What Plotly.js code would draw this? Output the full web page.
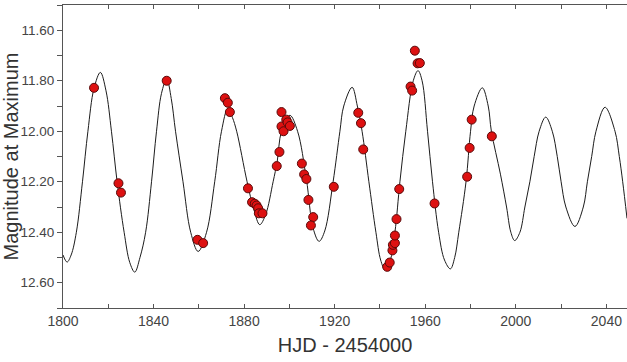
<!DOCTYPE html>
<html>
<head>
<meta charset="utf-8">
<script src="https://cdn.plot.ly/plotly-3.0.1.min.js"></script>
<style>
  html, body { margin: 0; padding: 0; background: #fff; }
  #chart { width: 627px; height: 362px; }
</style>
</head>
<body>
<div id="chart"></div>
<script>
// Model curve (HJD - 2454000, magnitude)
const curveX = [1800.0, 1801.8, 1803.6, 1805.9, 1808.6, 1811.0, 1813.7, 1816.5, 1819.0, 1821.4, 1823.9, 1827.0, 1829.5, 1831.7,
  1834.0, 1836.5, 1839.1, 1841.3, 1843.5, 1845.8, 1847.8, 1849.7, 1853.0, 1856.4, 1859.7, 1863.4, 1867.0, 1870.0,
  1872.8, 1874.8, 1876.7, 1881.3, 1884.3, 1886.9, 1889.5, 1892.8, 1894.6, 1896.5, 1900.2, 1903.6, 1907.5, 1910.5,
  1913.1, 1915.6, 1919.3, 1922.3, 1924.0, 1927.7, 1930.0, 1932.1, 1935.1, 1938.2, 1940.3, 1942.2, 1944.4, 1946.6,
  1948.8, 1951.4, 1954.7, 1956.8, 1958.6, 1961.0, 1963.2, 1965.9, 1968.5, 1971.1, 1973.0, 1974.8, 1978.0, 1980.0,
  1981.6, 1985.2, 1987.8, 1989.2, 1993.2, 1995.9, 1997.8, 1999.5, 2001.8, 2004.0, 2006.2, 2008.1, 2010.3, 2013.2,
  2016.1, 2018.3, 2020.0, 2022.1, 2026.1, 2029.8, 2031.6, 2033.5, 2035.4, 2039.4, 2043.8, 2045.7, 2047.2, 2049.1];
const curveY = [12.49, 12.518, 12.49, 12.40, 12.20, 12.00, 11.83, 11.767, 11.84, 12.00, 12.20, 12.40, 12.52, 12.558,
  12.50, 12.40, 12.20, 12.00, 11.85, 11.793, 11.87, 12.00, 12.20, 12.40, 12.476, 12.40, 12.20, 12.00,
  11.91, 11.945, 12.00, 12.20, 12.31, 12.370, 12.33, 12.20, 12.12, 12.00, 11.937, 12.00, 12.19, 12.385,
  12.436, 12.395, 12.20, 12.00, 11.90, 11.826, 11.90, 12.00, 12.20, 12.40, 12.51, 12.548, 12.515, 12.40,
  12.20, 12.00, 11.80, 11.760, 11.80, 12.00, 12.20, 12.40, 12.51, 12.545, 12.50, 12.40, 12.20, 12.00,
  11.90, 11.828, 11.90, 12.00, 12.17, 12.30, 12.40, 12.433, 12.40, 12.30, 12.20, 12.10, 12.00, 11.944,
  12.00, 12.10, 12.20, 12.30, 12.377, 12.30, 12.20, 12.10, 12.00, 11.905, 12.00, 12.10, 12.20, 12.345];

// Observed maxima
const obsX = [1813.7, 1824.5, 1825.6, 1845.8, 1859.4, 1861.9, 1871.5, 1872.8, 1873.7, 1881.7, 1883.5, 1884.7, 1885.5,
  1886.2, 1886.5, 1888.1, 1894.4, 1895.6, 1896.5, 1896.5, 1897.4, 1898.6, 1899.2, 1900.2, 1905.5, 1906.5, 1907.5,
  1908.4, 1910.5, 1909.5, 1919.6, 1930.4, 1931.6, 1932.6, 1943.2, 1944.3, 1945.5, 1945.7, 1946.6, 1946.6, 1947.3,
  1948.5, 1953.5, 1954.2, 1955.4, 1956.6, 1957.6, 1964.1, 1978.5, 1979.6, 1980.5, 1989.4];
const obsY = [11.828, 12.206, 12.243, 11.800, 12.430, 12.443, 11.869, 11.887, 11.924, 12.226, 12.281, 12.287, 12.294,
  12.305, 12.325, 12.325, 12.138, 12.082, 11.924, 11.981, 12.000, 11.954, 11.965, 11.979, 12.128, 12.171, 12.189,
  12.272, 12.340, 12.373, 12.220, 11.927, 11.968, 12.072, 12.537, 12.520, 12.472, 12.450, 12.443, 12.413, 12.348,
  12.229, 11.823, 11.839, 11.681, 11.731, 11.730, 12.286, 12.180, 12.066, 11.954, 12.020];

const xTitle = 'HJD - 2454000';
const yTitle = 'Magnitude at Maximum';

const traces = [
  { x: curveX, y: curveY, type: 'scatter', mode: 'lines',
    line: { color: '#1c1c1c', width: 1, shape: 'spline', smoothing: 1 }, hoverinfo: 'skip' },
  { x: obsX, y: obsY, type: 'scatter', mode: 'markers',
    marker: { color: '#dd1111', size: 9, line: { color: '#5a0a0a', width: 1 } } }
];

const layout = {
  width: 627, height: 362,
  margin: { l: 63, r: 0, t: 5, b: 54 },
  paper_bgcolor: '#ffffff', plot_bgcolor: '#ffffff',
  showlegend: false,
  font: { family: 'Liberation Sans, Arial, sans-serif', color: '#444' },
  xaxis: {
    range: [1800, 2049.1], dtick: 40, tick0: 1800, tickformat: 'd',
    showgrid: false, zeroline: false,
    showline: true, linecolor: '#555', linewidth: 1, mirror: 'ticks',
    ticks: 'inside', ticklen: 4, tickcolor: '#555',
    minor: { dtick: 20, ticks: 'inside', ticklen: 4, tickcolor: '#555' },
    tickfont: { size: 14, color: '#444' },
    title: { text: xTitle, font: { size: 20, color: '#333' }, standoff: 10 }
  },
  yaxis: {
    range: [12.7, 11.5], dtick: 0.2, tick0: 11.6, tickformat: '.2f',
    showgrid: false, zeroline: false,
    showline: true, linecolor: '#555', linewidth: 1,
    ticks: 'outside', ticklen: 5, tickcolor: '#555',
    minor: { dtick: 0.1, ticks: 'outside', ticklen: 5, tickcolor: '#555' },
    tickfont: { size: 13.5, color: '#444' },
    title: { text: yTitle, font: { size: 20, color: '#333' }, standoff: 8 }
  },
  yaxis2: {
    overlaying: 'y', side: 'right', range: [12.7, 11.5], dtick: 0.1, tick0: 11.6,
    showgrid: false, zeroline: false, showline: false, showticklabels: false,
    ticks: 'inside', ticklen: 3, tickcolor: '#555'
  }
};

Plotly.newPlot('chart', traces, layout, { displayModeBar: false, staticPlot: true });
</script>
</body>
</html>
